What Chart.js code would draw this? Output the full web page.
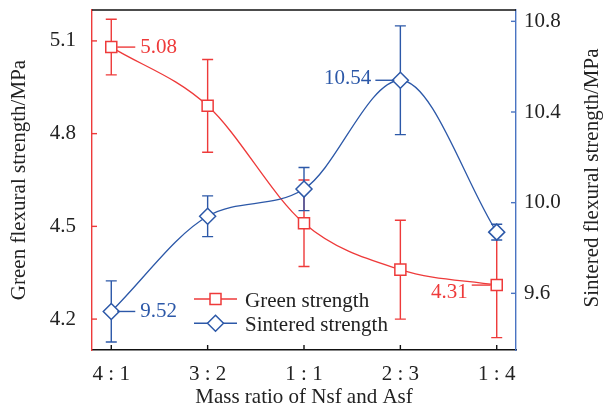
<!DOCTYPE html>
<html>
<head>
<meta charset="utf-8">
<script src="https://cdn.jsdelivr.net/npm/chart.js@4"></script>
<style>
html,body{margin:0;padding:0;background:#fff;}
#wrap{width:608px;height:416px;position:relative;}
</style>
</head>
<body>
<div id="wrap"><canvas id="c" width="608" height="416"></canvas></div>
<script>
// ---- data ----
const categories = ['4 : 1', '3 : 2', '1 : 1', '2 : 3', '1 : 4'];
const greenStrength = [5.08, 4.89, 4.51, 4.36, 4.31];
const greenError = [0.09, 0.15, 0.14, 0.16, 0.17];
const sinteredStrength = [9.52, 9.94, 10.06, 10.54, 9.87];
const sinteredError = [0.135, 0.09, 0.095, 0.24, 0.035];
const greenTicks = [4.2, 4.5, 4.8, 5.1];
const sinteredTicks = [9.6, 10.0, 10.4, 10.8];
const seriesNames = ['Green strength', 'Sintered strength'];
const xTitle = 'Mass ratio of Nsf and Asf';
const leftTitle = 'Green flexural strength/MPa';
const rightTitle = 'Sintered flexural strength/MPa';
// value annotations: dataset index, point index, side
const labelSeries = [0, 1, 1, 0];
const labelIndex = [0, 0, 3, 4];
const labelSide = ['right', 'right', 'left', 'left'];

// ---- styles ----
const RED = '#ee3a3a';
const BLUE = '#2c58a8';
const BLUE_AXIS = '#4a74c2';
const INK = '#222222';
const FONT = "'Liberation Serif', 'Times New Roman', serif";
const FS = 21;

const errors = [greenError, sinteredError];

const errorBarPlugin = {
  id: 'errorBars',
  beforeDatasetDraw(chart, args) {
    const ds = chart.data.datasets[args.index];
    const meta = args.meta;
    const yScale = chart.scales[ds.yAxisID];
    const errs = errors[args.index];
    const ctx = chart.ctx;
    ctx.save();
    ctx.strokeStyle = ds.borderColor;
    ctx.lineWidth = 1.4;
    meta.data.forEach((pt, i) => {
      const v = ds.data[i].y;
      const yt = yScale.getPixelForValue(v + errs[i]);
      const yb = yScale.getPixelForValue(v - errs[i]);
      const x = pt.x;
      ctx.beginPath();
      ctx.moveTo(x, yt); ctx.lineTo(x, yb);
      ctx.moveTo(x - 5.5, yt); ctx.lineTo(x + 5.5, yt);
      ctx.moveTo(x - 5.5, yb); ctx.lineTo(x + 5.5, yb);
      ctx.stroke();
    });
    ctx.restore();
  }
};

const decorPlugin = {
  id: 'decor',
  afterDraw(chart) {
    const ctx = chart.ctx;
    const a = chart.chartArea;
    ctx.save();
    // top frame line
    ctx.strokeStyle = '#111';
    ctx.lineWidth = 1.4;
    ctx.beginPath();
    ctx.moveTo(a.left, a.top); ctx.lineTo(a.right, a.top);
    ctx.stroke();
    // inward tick marks
    const yl = chart.scales.y, yr = chart.scales.y2, xs = chart.scales.x;
    ctx.strokeStyle = RED;
    yl.ticks.forEach(t => { const p = yl.getPixelForValue(t.value); ctx.beginPath(); ctx.moveTo(a.left, p); ctx.lineTo(a.left + 5, p); ctx.stroke(); });
    ctx.strokeStyle = BLUE_AXIS;
    yr.ticks.forEach(t => { const p = yr.getPixelForValue(t.value); ctx.beginPath(); ctx.moveTo(a.right, p); ctx.lineTo(a.right - 5, p); ctx.stroke(); });
    ctx.strokeStyle = '#111';
    xs.ticks.forEach(t => { const p = xs.getPixelForValue(t.value); ctx.beginPath(); ctx.moveTo(p, a.bottom); ctx.lineTo(p, a.bottom - 5); ctx.stroke(); });

    // right axis title (reads bottom to top)
    ctx.fillStyle = INK;
    ctx.font = FS + 'px ' + FONT;
    ctx.textAlign = 'center';
    ctx.textBaseline = 'middle';
    ctx.save();
    ctx.translate(592, (a.top + a.bottom) / 2 - 2);
    ctx.rotate(-Math.PI / 2);
    ctx.fillText(rightTitle, 0, 0);
    ctx.restore();

    // value annotations with leader lines
    labelSeries.forEach((s, k) => {
      const ds = chart.data.datasets[s];
      const meta = chart.getDatasetMeta(s);
      const i = labelIndex[k];
      const pt = meta.data[i];
      const txt = ds.data[i].y.toFixed(2);
      ctx.strokeStyle = ds.borderColor;
      ctx.fillStyle = ds.borderColor;
      ctx.lineWidth = 1.4;
      ctx.textBaseline = 'alphabetic';
      const base = pt.y + 7 + (s === 0 && i === 4 ? 6 : (i === 3 ? -3 : -1));
      ctx.beginPath();
      if (labelSide[k] === 'right') {
        ctx.moveTo(pt.x + 6, pt.y); ctx.lineTo(pt.x + 24, pt.y); ctx.stroke();
        ctx.textAlign = 'left';
        ctx.fillText(txt, pt.x + 29, base);
      } else {
        ctx.moveTo(pt.x - 6, pt.y); ctx.lineTo(pt.x - 25, pt.y); ctx.stroke();
        ctx.textAlign = 'right';
        ctx.fillText(txt, pt.x - 29, base);
      }
    });

    // legend
    const rows = [299, 323.3];
    chart.data.datasets.forEach((ds, k) => {
      const y = rows[k];
      ctx.strokeStyle = ds.borderColor;
      ctx.lineWidth = 1.4;
      ctx.beginPath();
      ctx.moveTo(194, y); ctx.lineTo(237, y); ctx.stroke();
      ctx.fillStyle = '#fff';
      ctx.lineWidth = 1.5;
      ctx.beginPath();
      if (k === 0) {
        ctx.rect(215.5 - 5.5, y - 5.5, 11, 11);
      } else {
        ctx.moveTo(215.5, y - 8); ctx.lineTo(223.5, y); ctx.lineTo(215.5, y + 8); ctx.lineTo(207.5, y); ctx.closePath();
      }
      ctx.fill(); ctx.stroke();
      ctx.fillStyle = INK;
      ctx.textAlign = 'left';
      ctx.textBaseline = 'alphabetic';
      ctx.fillText(seriesNames[k], 245, y + 7.5);
    });
    ctx.restore();
  }
};

const toPts = arr => arr.map((v, i) => ({ x: i, y: v }));
const zeroPad = s => { s.paddingTop = 0; s.paddingBottom = 0; s.paddingLeft = 0; s.paddingRight = 0; };

new Chart(document.getElementById('c'), {
  type: 'line',
  data: {
    datasets: [
      {
        label: seriesNames[0],
        data: toPts(greenStrength),
        yAxisID: 'y',
        borderColor: RED,
        backgroundColor: RED,
        borderWidth: 1.3,
        cubicInterpolationMode: 'monotone',
        pointStyle: 'rect',
        pointRadius: 7.8,
        pointBorderWidth: 1.5,
        pointBorderColor: RED,
        pointBackgroundColor: '#fff',
        order: 1
      },
      {
        label: seriesNames[1],
        data: toPts(sinteredStrength),
        yAxisID: 'y2',
        borderColor: BLUE,
        backgroundColor: BLUE,
        borderWidth: 1.3,
        cubicInterpolationMode: 'monotone',
        pointStyle: 'rectRot',
        pointRadius: 8,
        pointBorderWidth: 1.5,
        pointBorderColor: BLUE,
        pointBackgroundColor: '#fff',
        order: 0
      }
    ]
  },
  options: {
    responsive: false,
    animation: false,
    layout: { padding: { top: 10, left: 0, right: 0, bottom: 0 } },
    plugins: { legend: { display: false }, tooltip: { enabled: false } },
    scales: {
      x: {
        type: 'linear',
        min: -0.2,
        max: 4.2,
        afterBuildTicks: s => { s.ticks = categories.map((c, i) => ({ value: i })); },
        afterFit: s => { s.height = 66; zeroPad(s); },
        ticks: {
          callback: v => categories[v],
          color: INK,
          font: { family: FONT, size: FS },
          padding: 12,
          maxRotation: 0,
          autoSkip: false
        },
        grid: { display: true, drawOnChartArea: false, drawTicks: false },
        border: { display: true, color: '#111', width: 1.4 },
        title: {
          display: true,
          text: xTitle,
          color: INK,
          font: { family: FONT, size: FS },
          padding: { top: 6, bottom: 6 }
        }
      },
      y: {
        position: 'left',
        min: 4.1,
        max: 5.2,
        afterBuildTicks: s => { s.ticks = greenTicks.map(v => ({ value: v })); },
        afterFit: s => { s.width = 92; zeroPad(s); },
        ticks: {
          callback: v => v.toFixed(1),
          color: INK,
          font: { family: FONT, size: FS },
          padding: 16
        },
        grid: { display: true, drawOnChartArea: false, drawTicks: false },
        border: { display: true, color: RED, width: 1.4 },
        title: {
          display: true,
          text: leftTitle,
          color: INK,
          font: { family: FONT, size: FS },
          padding: { top: 7, bottom: 7 }
        }
      },
      y2: {
        position: 'right',
        min: 9.35,
        max: 10.85,
        afterBuildTicks: s => { s.ticks = sinteredTicks.map(v => ({ value: v })); },
        afterFit: s => { s.width = 92; zeroPad(s); },
        ticks: {
          callback: v => v.toFixed(1),
          color: INK,
          font: { family: FONT, size: FS },
          padding: 8
        },
        grid: { display: true, drawOnChartArea: false, drawTicks: false },
        border: { display: true, color: BLUE_AXIS, width: 1.4 }
      }
    }
  },
  plugins: [errorBarPlugin, decorPlugin]
});
</script>
</body>
</html>
